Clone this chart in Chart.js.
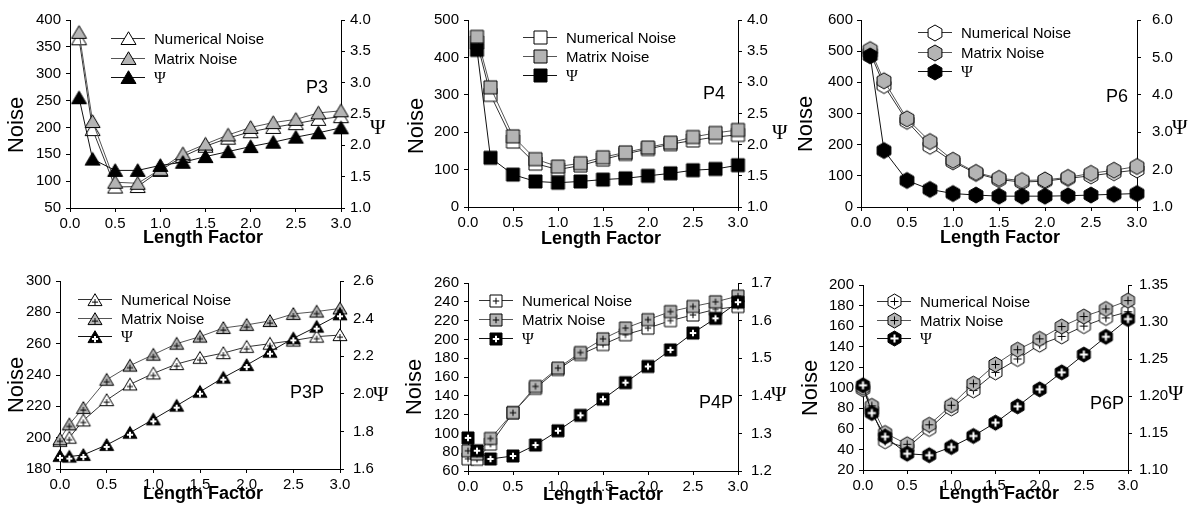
<!DOCTYPE html>
<html>
<head>
<meta charset="utf-8">
<script src="https://cdn.jsdelivr.net/npm/chart.js@4.4.1/dist/chart.umd.min.js"></script>
<style>
html, body { margin: 0; padding: 0; background: #fff; }
#wrap { position: relative; width: 1198px; height: 517px; overflow: hidden; }
#wrap canvas { position: absolute; }
</style>
</head>
<body>
<div id="wrap"></div>
<script>
// x positions (Length Factor)
const xTop = [0.1, 0.25, 0.5, 0.75, 1.0, 1.25, 1.5, 1.75, 2.0, 2.25, 2.5, 2.75, 3.0];
const xBottom = [0.0, 0.1, 0.25, 0.5, 0.75, 1.0, 1.25, 1.5, 1.75, 2.0, 2.25, 2.5, 2.75, 3.0];
const seriesNames = ['Numerical Noise', 'Matrix Noise', '\u03A8'];

// P3
const p3Num = [365, 196, 89, 90, 120, 146, 165, 180, 192, 200, 207, 215, 220];
const p3Mat = [377, 211, 98, 96, 122, 151, 169, 186, 200, 209, 215, 227, 231];
const p3Psi = [2.76, 1.78, 1.60, 1.60, 1.68, 1.73, 1.82, 1.90, 1.98, 2.05, 2.13, 2.20, 2.28];
// P4
const p4Num = [440, 300, 175, 116, 100, 111, 127, 142, 155, 168, 178, 187, 193];
const p4Mat = [455, 320, 189, 128, 108, 117, 133, 146, 159, 172, 187, 198, 206];
const p4Psi = [3.52, 1.79, 1.52, 1.41, 1.39, 1.41, 1.44, 1.46, 1.50, 1.54, 1.59, 1.61, 1.67];
// P6
const p6Num = [495, 390, 275, 195, 145, 108, 88, 80, 83, 92, 100, 110, 119];
const p6Mat = [505, 405, 283, 210, 150, 111, 92, 85, 87, 95, 108, 118, 130];
const p6Psi = [5.04, 2.51, 1.71, 1.47, 1.36, 1.32, 1.29, 1.29, 1.29, 1.30, 1.32, 1.34, 1.36];
// P3P
const p3pNum = [198, 200, 211, 224, 234, 241, 247, 251, 254, 258, 260, 262, 264.5, 265.5];
const p3pMat = [199, 208.5, 219, 237, 246, 253, 260, 264.5, 270, 272, 274.5, 279, 280.5, 282.5];
const p3pPsi = [1.670, 1.666, 1.675, 1.728, 1.793, 1.864, 1.937, 2.011, 2.086, 2.153, 2.224, 2.295, 2.357, 2.423];
// P4P
const p4pNum = [73, 72.5, 88.6, 122, 148, 168, 184, 194.6, 205, 212, 220, 226, 232, 235];
const p4pMat = [81.5, 78, 94.6, 122, 150, 169.5, 186, 200.6, 212, 221, 229.6, 235, 240, 246];
const p4pPsi = [1.288, 1.254, 1.232, 1.240, 1.269, 1.307, 1.348, 1.391, 1.435, 1.478, 1.522, 1.567, 1.606, 1.649];
// P6P
const p6pNum = [98.5, 78, 48, 41.6, 60, 80, 97.5, 115, 128, 142, 150, 160, 168, 174];
const p6pMat = [100, 82.4, 56, 45, 64, 83, 104, 122.7, 137, 147.6, 159.6, 169.3, 176.7, 184.8];
const p6pPsi = [1.2145, 1.177, 1.145, 1.122, 1.120, 1.131, 1.146, 1.164, 1.186, 1.209, 1.232, 1.256, 1.280, 1.304];

// axis ranges: [min, max, step, decimals]
const p3Noise = [50, 400, 50, 0],   p3PsiAx = [1.0, 4.0, 0.5, 1];
const p4Noise = [0, 500, 100, 0],   p4PsiAx = [1.0, 4.0, 0.5, 1];
const p6Noise = [0, 600, 100, 0],   p6PsiAx = [1.0, 6.0, 1.0, 1];
const p3pNoise = [180, 300, 20, 0], p3pPsiAx = [1.6, 2.6, 0.2, 1];
const p4pNoise = [60, 260, 20, 0],  p4pPsiAx = [1.2, 1.7, 0.1, 1];
const p6pNoise = [20, 200, 20, 0],  p6pPsiAx = [1.10, 1.35, 0.05, 2];

const SANS = "'Liberation Sans', Arial, sans-serif";
const SERIF = "'Liberation Serif', 'Times New Roman', serif";
const FILLS = ['#fff', '#b4b4b4', '#000'];
const LINES = ['#333', '#555', '#111'];

function makeMarker(shape, size, fill, plus) {
  const c = document.createElement('canvas');
  const n = Math.ceil(size) + 4;
  c.width = n; c.height = n;
  const g = c.getContext('2d');
  g.translate(n / 2, n / 2);
  const r = size / 2;
  g.beginPath();
  if (shape === 'tri') {
    g.moveTo(0, -r * 0.9); g.lineTo(r, r * 0.8); g.lineTo(-r, r * 0.8); g.closePath();
  } else if (shape === 'sq') {
    g.rect(-r, -r, size, size);
  } else {
    for (let k = 0; k < 6; k++) {
      const a = Math.PI / 2 + k * Math.PI / 3;
      if (k) g.lineTo(r * Math.cos(a), r * Math.sin(a)); else g.moveTo(r * Math.cos(a), r * Math.sin(a));
    }
    g.closePath();
  }
  g.fillStyle = fill; g.fill();
  g.lineWidth = 1; g.strokeStyle = '#000'; g.stroke();
  if (plus) {
    const dark = fill === '#000';
    g.strokeStyle = dark ? '#fff' : '#000';
    g.lineWidth = dark ? 2 : 1;
    const py = shape === 'tri' ? r * 0.3 : 0;
    const a = shape === 'tri' ? size * 0.22 : size * 0.27;
    g.beginPath();
    g.moveTo(-a, py); g.lineTo(a, py);
    g.moveTo(0, py - a); g.lineTo(0, py + a);
    g.stroke();
  }
  return c;
}

// layout per panel (page pixels); pads = [left tick label padding, right tick label padding]
const panels = [
  { name: 'P3', x: xTop, ys: [p3Num, p3Mat, p3Psi], noise: p3Noise, psiAx: p3PsiAx, shape: 'tri', size: 15, plus: false,
    cell: [0, 0, 400, 257], plot: [70, 20, 341, 208], pads: [5, 5], label: [317, 88], psiAt: [370, 128], noiseAt: [17, 125], lfAt: [203, 238], legend: [128, 38, 19.5] },
  { name: 'P4', x: xTop, ys: [p4Num, p4Mat, p4Psi], noise: p4Noise, psiAx: p4PsiAx, shape: 'sq', size: 13, plus: false,
    cell: [400, 0, 398, 257], plot: [468, 20, 738, 207], pads: [5, 5], label: [714, 94], psiAt: [772, 133], noiseAt: [417, 126], lfAt: [601, 239], legend: [540, 37, 19] },
  { name: 'P6', x: xTop, ys: [p6Num, p6Mat, p6Psi], noise: p6Noise, psiAx: p6PsiAx, shape: 'hex', size: 16, plus: false,
    cell: [798, 0, 400, 257], plot: [861, 15, 1137, 207], pads: [4, 11], label: [1117, 97], psiAt: [1172, 128], noiseAt: [806, 124], lfAt: [1000, 238], legend: [935, 32, 19.5] },
  { name: 'P3P', x: xBottom, ys: [p3pNum, p3pMat, p3pPsi], noise: p3pNoise, psiAx: p3pPsiAx, shape: 'tri', size: 14, plus: true,
    cell: [0, 257, 400, 260], plot: [60, 281, 340, 469], pads: [5, 9], label: [307, 393], psiAt: [373, 395], noiseAt: [17, 385], lfAt: [203, 494], legend: [95, 299, 18.5] },
  { name: 'P4P', x: xBottom, ys: [p4pNum, p4pMat, p4pPsi], noise: p4pNoise, psiAx: p4pPsiAx, shape: 'sq', size: 12, plus: true,
    cell: [400, 257, 398, 260], plot: [468, 283, 738, 471], pads: [5, 9], label: [716, 403], psiAt: [771, 395], noiseAt: [415, 387], lfAt: [603, 495], legend: [496, 300, 19] },
  { name: 'P6P', x: xBottom, ys: [p6pNum, p6pMat, p6pPsi], noise: p6pNoise, psiAx: p6pPsiAx, shape: 'hex', size: 15, plus: true,
    cell: [798, 257, 400, 260], plot: [863, 285, 1128, 470], pads: [5, 7], label: [1107, 404], psiAt: [1168, 394], noiseAt: [811, 388], lfAt: [999, 494], legend: [894, 301, 18.5] }
];

function makeDecor(p, marks) {
  return {
    id: 'decor' + p.name,
    afterDraw(chart) {
      const ctx = chart.ctx;
      const ox = p.cell[0], oy = p.cell[1];
      ctx.save();
      ctx.fillStyle = '#000';
      ctx.textBaseline = 'middle';
      // legend
      const [mx, my, gap] = p.legend;
      for (let i = 0; i < 3; i++) {
        const yy = Math.round(my + i * gap - oy) + 0.5;
        const xx = mx - ox;
        ctx.strokeStyle = LINES[i]; ctx.lineWidth = 1;
        ctx.beginPath(); ctx.moveTo(xx - 17, yy); ctx.lineTo(xx + 17, yy); ctx.stroke();
        const m = marks[i];
        ctx.drawImage(m, Math.round(xx - m.width / 2), Math.round(yy - m.height / 2));
        ctx.textAlign = 'left';
        ctx.font = i === 2 ? '16px ' + SERIF : '15px ' + SANS;
        ctx.fillText(seriesNames[i], xx + 26, yy + 1);
      }
      // right axis symbol
      ctx.textAlign = 'left';
      ctx.font = '21px ' + SERIF;
      ctx.fillText('\u03A8', p.psiAt[0] - ox, p.psiAt[1] - oy);
      // panel label
      ctx.textAlign = 'center';
      ctx.font = '18px ' + SANS;
      ctx.fillText(p.name, p.label[0] - ox, p.label[1] - oy);
      // x title
      ctx.font = 'bold 18px ' + SANS;
      ctx.fillText('Length Factor', p.lfAt[0] - ox, p.lfAt[1] - oy);
      // y title
      ctx.translate(p.noiseAt[0] - ox, p.noiseAt[1] - oy);
      ctx.rotate(-Math.PI / 2);
      ctx.font = '22px ' + SANS;
      ctx.fillText('Noise', 0, 0);
      ctx.restore();
    }
  };
}

const wrap = document.getElementById('wrap');

panels.forEach(p => {
  const [cx, cy, cw, ch] = p.cell;
  const [pl, pt, pr, pb] = p.plot;
  const cv = document.createElement('canvas');
  cv.width = cw; cv.height = ch;
  cv.style.left = cx + 'px';
  cv.style.top = cy + 'px';
  wrap.appendChild(cv);

  const marks = FILLS.map(f => makeMarker(p.shape, p.size, f, p.plus));
  const datasets = p.ys.map((vals, i) => ({
    label: seriesNames[i],
    data: p.x.map((xv, k) => ({ x: xv, y: vals[k] })),
    yAxisID: i === 2 ? 'y1' : 'y',
    borderColor: LINES[i],
    borderWidth: 1,
    pointStyle: marks[i],
    pointRadius: 7,
    tension: 0,
    clip: false,
    order: 3 - i
  }));

  const tickFont = { family: SANS, size: 15 };
  const grid = { display: true, drawOnChartArea: false, drawTicks: true, tickLength: 4, color: '#000' };
  const border = { display: true, color: '#000', width: 1 };

  new Chart(cv, {
    type: 'line',
    data: { datasets },
    options: {
      responsive: false,
      animation: false,
      events: [],
      layout: { padding: { top: pt - cy, left: 0, right: 0, bottom: 0 } },
      plugins: { legend: { display: false }, tooltip: { enabled: false } },
      scales: {
        x: {
          type: 'linear', min: 0, max: 3,
          grid, border,
          ticks: { stepSize: 0.5, autoSkip: false, maxRotation: 0, color: '#000', font: tickFont, padding: 3,
            callback: v => v.toFixed(1) },
          afterFit: s => { s.height = cy + ch - pb; }
        },
        y: {
          type: 'linear', position: 'left',
          min: p.noise[0], max: p.noise[1],
          grid, border,
          ticks: { stepSize: p.noise[2], autoSkip: false, color: '#000', font: tickFont, padding: p.pads[0],
            callback: v => v.toFixed(p.noise[3]) },
          afterFit: s => { s.width = pl - cx; }
        },
        y1: {
          type: 'linear', position: 'right',
          min: p.psiAx[0], max: p.psiAx[1],
          grid, border,
          ticks: { stepSize: p.psiAx[2], autoSkip: false, color: '#000', font: tickFont, padding: p.pads[1],
            callback: v => v.toFixed(p.psiAx[3]) },
          afterFit: s => { s.width = cx + cw - pr; }
        }
      }
    },
    plugins: [makeDecor(p, marks)]
  });
});
</script>
</body>
</html>
